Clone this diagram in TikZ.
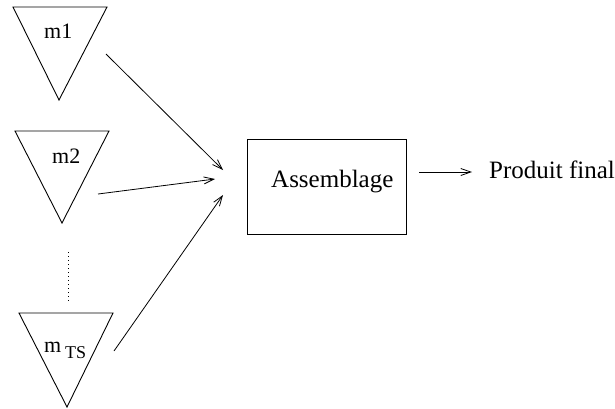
\documentclass[tikz,border=0pt]{standalone}
\usepackage{fontspec}
\setmainfont{Liberation Serif}
\usetikzlibrary{arrows.meta}
\tikzset{
  conn/.style={line width=0.8pt,-{Straight Barb[length=10pt,width=7pt,line width=0.8pt]}},
  tri/.style={line width=0.9pt},
  big/.style={font=\fontsize{25}{30}\selectfont, inner sep=0pt, anchor=base west},
  lab/.style={font=\fontsize{22}{26}\selectfont, inner sep=0pt, anchor=base west},
  sub/.style={font=\fontsize{18}{22}\selectfont, inner sep=0pt, anchor=base west},
}
\begin{document}
\begin{tikzpicture}[x=1pt,y=-1pt]
\useasboundingbox (0,0) rectangle (615,408);
% triangles
\draw[tri] (13,7) -- (107,7) -- (59,100) -- cycle;
\draw[tri] (15,131) -- (109,131) -- (62,223) -- cycle;
\draw[tri] (19,313) -- (113,313) -- (67,407) -- cycle;
\draw[line width=0.8pt, dash pattern=on 1pt off 3pt] (68,252) -- (68,303);
% labels
\node[lab] (m1) at (44,38) {m1};
\node[lab] (m2) at (52,163) {m2};
\node[lab] (m3) at (44,352) {m};
\node[sub] (ts) at (65,358) {TS};
% box
\node[draw, line width=0.9pt, minimum width=159pt, minimum height=95pt, inner sep=0pt] (box) at (326.5,186.5) {};
\node[big] (asm) at (271,187) {Assemblage};
\node[big] (pf) at (489,178) {Produit final};
% connector coordinates
\coordinate (s1) at (106,54);
\coordinate (e1) at (223,170);
\coordinate (s2) at (98,194);
\coordinate (e2) at (215,179);
\coordinate (s3) at (114,351);
\coordinate (e3) at (223,195);
\coordinate (o1) at (419,172);
\coordinate (o2) at (472,172);
\draw[conn] (s1) -- (e1);
\draw[conn] (s2) -- (e2);
\draw[conn] (s3) -- (e3);
\draw[conn] (o1) -- (o2);
\end{tikzpicture}
\end{document}
